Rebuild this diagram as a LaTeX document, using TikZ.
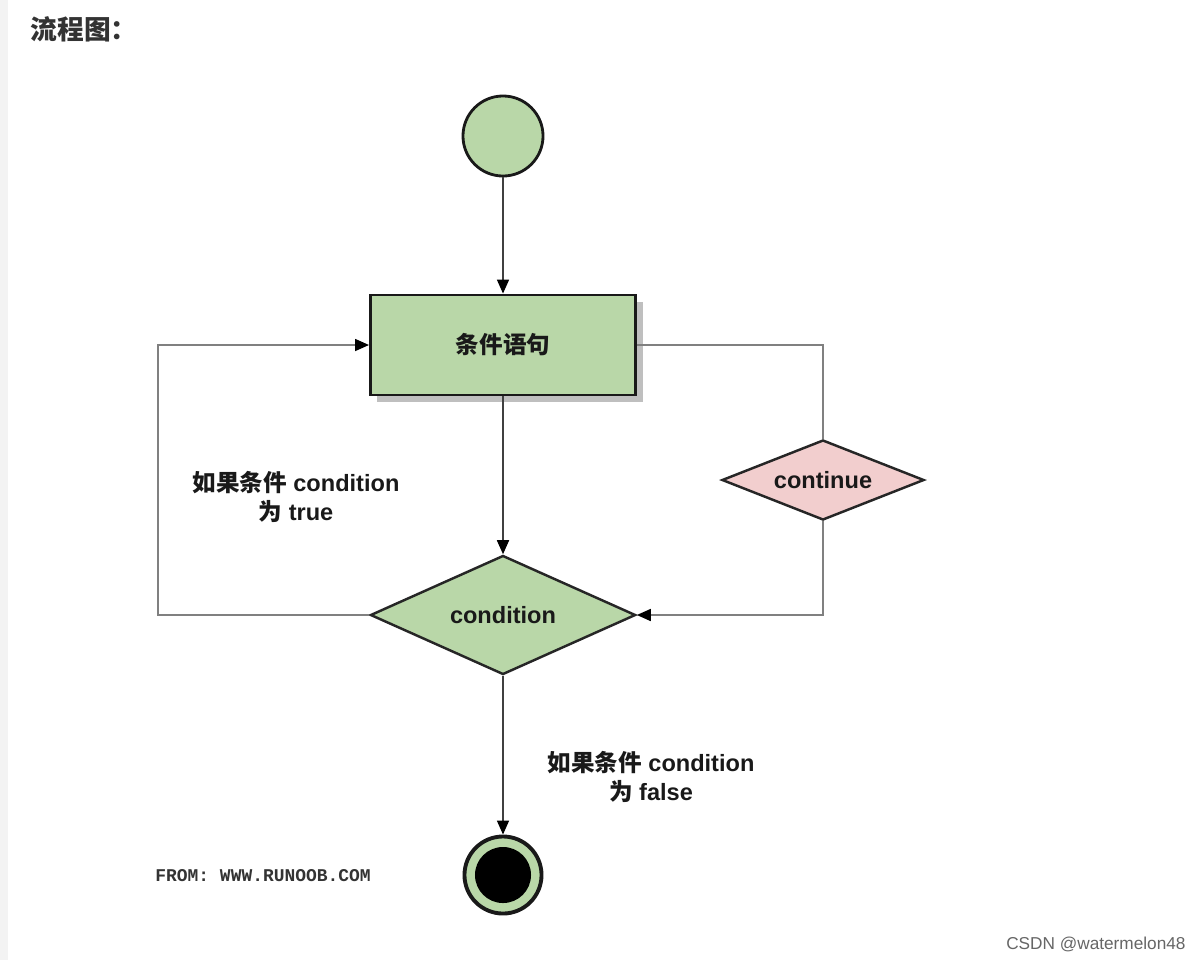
\documentclass[tikz,border=0pt]{standalone}
\usepackage{fontspec}
\setmainfont{Liberation Sans}
\setmonofont{Liberation Mono}
\newfontfamily\cjk{Noto Sans CJK SC}
\usetikzlibrary{shapes.geometric,arrows.meta,shadows}
\definecolor{nodegreen}{RGB}{185,215,168}
\definecolor{nodepink}{RGB}{242,206,206}
\definecolor{stripgray}{RGB}{243,243,243}

\begin{document}
\begin{tikzpicture}[x=0.01cm,y=-0.01cm,
  every node/.style={font=\fontsize{6.7pt}{8.2pt}\selectfont\bfseries, text=black!90},
  startnode/.style={circle,draw=black!90,line width=0.8pt,fill=nodegreen,minimum size=0.8cm},
  stopnode/.style={circle,draw=black!90,line width=1.1pt,fill=nodegreen,minimum size=0.77cm},
  stmtbox/.style={rectangle,draw=black!90,line width=0.8pt,fill=nodegreen,
    minimum width=2.65cm,minimum height=1.0cm,
    drop shadow={shadow xshift=0.07cm,shadow yshift=-0.07cm,fill=black!25,opacity=1}},
  decision/.style={diamond,draw=black!85,line width=0.7pt,inner sep=0pt},
  flow/.style={draw=black!75,line width=0.45pt,-{Triangle[length=0.14cm,width=0.12cm,color=black]}},
  loopline/.style={draw=black!50,line width=0.45pt},
  loopflow/.style={loopline,-{Triangle[length=0.14cm,width=0.12cm,color=black]}},
  lbl/.style={align=center}]

  \useasboundingbox (0,0) rectangle (1200,960);
  \fill[white] (0,0) rectangle (1200,960);
  \fill[stripgray] (0,0) rectangle (8,960);

  \node[anchor=west,inner sep=0pt,font=\fontsize{7.6pt}{9pt}\selectfont\cjk\bfseries,text=black!80] (title) at (30,29) {流程图：};

  \node[startnode] (start) at (503,136) {};
  \node[stmtbox] (stmt) at (503,345) {\cjk 条件语句};
  \node[decision,fill=nodegreen,aspect=2.23,minimum width=2.65cm,minimum height=1.19cm] (cond) at (503,615) {condition};
  \node[decision,fill=nodepink,aspect=2.5,minimum width=2.02cm,minimum height=0.80cm] (cont) at (823,480) {continue};
  \node[stopnode] (stop) at (503,875) {};
  \fill[black] (stop.center) circle[radius=0.28cm];

  \coordinate (lcorner) at (158,615);

  \draw[flow] (start) -- (stmt);
  \draw[flow] (stmt) -- (cond);
  \draw[flow] (cond) -- (stop);
  \draw[loopflow] (cond.west) -- (lcorner) |- (stmt.west);
  \draw[loopline] (stmt.east) -| (cont.north);
  \draw[loopflow] (cont.south) |- (cond.east);

  \node[lbl] (truelbl) at (296,497) {{\cjk 如果条件} condition\\{\cjk 为} true};
  \node[lbl] (falselbl) at (651,777) {{\cjk 如果条件} condition\\{\cjk 为} false};

  \node[anchor=west,font=\fontsize{5.1pt}{6pt}\selectfont\ttfamily\bfseries,text=black!80] (from) at (143,876) {FROM: WWW.RUNOOB.COM};
  \node[anchor=east,font=\fontsize{4.9pt}{6pt}\selectfont,text=black!60] (csdn) at (1198,944) {CSDN @watermelon48};
\end{tikzpicture}
\end{document}
